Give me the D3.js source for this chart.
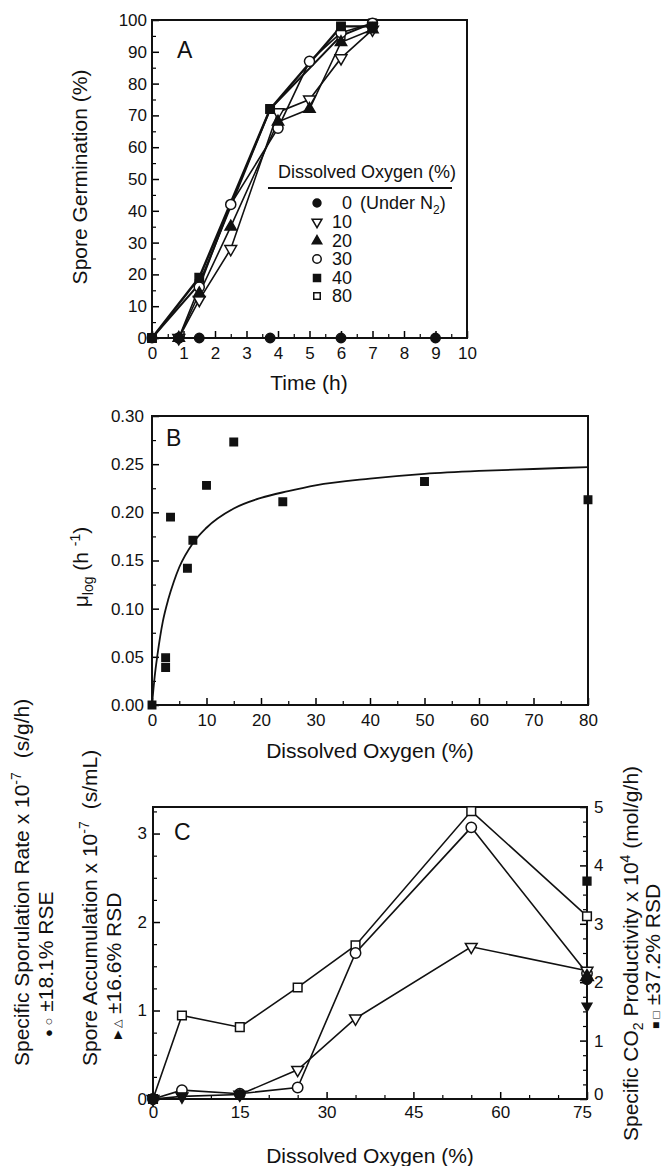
<!DOCTYPE html>
<html>
<head>
<meta charset="utf-8">
<script src="https://cdn.jsdelivr.net/npm/d3@7"></script>
<style>
    body { margin: 0; background: #fff; }
    svg text { font-family: "Liberation Sans", Arial, Helvetica, sans-serif; fill: #111; }
</style>
</head>
<body>
<div id="figure"></div>
<script>
// ---------- data ----------

// panel A: spore germination (%) vs time (h), one pair of arrays per dissolved oxygen level
const doLevelsA = ['0', '10', '20', '30', '40', '80'];
const timeN2 = [0, 0.85, 1.5, 3.75, 6, 9];
const germN2 = [0, 0, 0, 0, 0, 0];
const time10 = [0.85, 1.5, 2.5, 4, 5, 6, 7];
const germ10 = [0, 12, 28, 71, 75, 88, 97];
const time20 = [0.85, 1.5, 2.5, 4, 5, 6, 7];
const germ20 = [0, 14, 35, 68, 72, 93, 97];
const time30 = [0.85, 1.5, 2.5, 4, 5, 6, 7];
const germ30 = [0, 16, 42, 66, 87, 96, 99];
const time40 = [0, 1.5, 3.75, 6, 7];
const germ40 = [0, 19, 72, 98, 98];
const time80 = [0, 1.5, 3.75, 6, 7];
const germ80 = [0, 17, 72, 95, 99];
const timeTicksA = [0, 1, 2, 3, 4, 5, 6, 7, 8, 9, 10];
const germTicksA = [0, 10, 20, 30, 40, 50, 60, 70, 80, 90, 100];

// panel B: specific growth rate vs dissolved oxygen
const doB = [0, 2.5, 2.5, 3.4, 6.5, 7.5, 10, 15, 24, 50, 80];
const muB = [0, 0.049, 0.039, 0.195, 0.142, 0.171, 0.228, 0.273, 0.211, 0.232, 0.213];
const fitDoB = [0, 0.5, 1, 2, 3, 4, 5, 7.5, 10, 15, 20, 25, 30, 40, 50, 60, 70, 80];
const fitMuB = [0, 0.030, 0.052, 0.087, 0.110, 0.128, 0.143, 0.168, 0.184, 0.204, 0.215, 0.222, 0.228, 0.235, 0.240, 0.243, 0.245, 0.247];
const doTicksB = [0, 10, 20, 30, 40, 50, 60, 70, 80];
const muTicksB = [0, 0.05, 0.10, 0.15, 0.20, 0.25, 0.30];

// panel C: sporulation rate / spore accumulation (left) and CO2 productivity (right)
const doC = [0, 5, 15, 25, 35, 55, 75];
const rateOpenC = [0, 0.10, 0.06, 0.13, 1.65, 3.07, 1.42];
const accumOpenC = [0, 0.03, 0.05, 0.33, 0.91, 1.72, 1.45];
const co2OpenC = [0, 1.43, 1.23, 1.91, 2.63, 4.93, 3.13];
const rateFilledDo = [0, 15, 75];
const rateFilledC = [0, 0.05, 1.35];
const accumUpDo = [75];
const accumUpC = [1.38];
const accumDownDo = [5, 75];
const accumDownC = [0.03, 1.05];
const co2FilledDo = [75];
const co2FilledC = [3.73];
const doTicksC = [0, 15, 30, 45, 60, 75];
const leftTicksC = [0, 1, 2, 3];
const rightTicksC = [0, 1, 2, 3, 4, 5];

// ---------- drawing ----------
let svg = d3.select('#figure')
    .append('svg')
    .attr('width', 668)
    .attr('height', 1166);

function zip(xs, ys) {
    return xs.map(function (d, i) { return [d, ys[i]]; });
}

function symbolPath(type, size) {
    if (type === 'circle') return d3.symbol().type(d3.symbolCircle).size(size)();
    if (type === 'square') return d3.symbol().type(d3.symbolSquare).size(size)();
    return d3.symbol().type(d3.symbolTriangle).size(size)();
}

function drawMarkers(g, pts, x, y, type, filled, size) {
    g.selectAll(null)
        .data(pts)
        .enter()
        .append('path')
        .attr('d', symbolPath(type, size))
        .attr('transform', function (d) {
            let r = type === 'down' ? ' rotate(180)' : '';
            return 'translate(' + x(d[0]) + ',' + y(d[1]) + ')' + r;
        })
        .attr('fill', filled ? '#111' : '#fff')
        .attr('stroke', '#111')
        .attr('stroke-width', 1.5);
}

function drawLine(g, pts, x, y, width) {
    g.append('path')
        .datum(pts)
        .attr('d', d3.line().x(function (d) { return x(d[0]); }).y(function (d) { return y(d[1]); }))
        .attr('fill', 'none')
        .attr('stroke', '#111')
        .attr('stroke-width', width);
}

function minorTicks(g, axis, values, transform) {
    g.append('g')
        .attr('transform', transform)
        .call(axis.tickValues(values).tickSize(-4).tickFormat(''))
        .call(function (s) { s.select('.domain').remove(); })
        .selectAll('line').attr('stroke-width', 1.2);
}

function majorTicks(g, axis, transform, fontSize) {
    let a = g.append('g')
        .attr('transform', transform)
        .call(axis);
    a.select('.domain').remove();
    a.selectAll('line').attr('stroke-width', 1.5);
    a.selectAll('text')
        .style('font-family', '"Liberation Sans", Arial, sans-serif')
        .style('font-size', fontSize + 'px')
        .attr('fill', '#111');
    return a;
}

function frame(g, x0, y0, x1, y1) {
    g.append('rect')
        .attr('x', x0).attr('y', y0)
        .attr('width', x1 - x0).attr('height', y1 - y0)
        .attr('fill', 'none')
        .attr('stroke', '#111')
        .attr('stroke-width', 2);
}

// ---------- panel A ----------
(function () {
    let g = svg.append('g');
    let x = d3.scaleLinear().domain([0, 10]).range([152, 467]);
    let y = d3.scaleLinear().domain([0, 100]).range([338, 20]);

    minorTicks(g, d3.axisBottom(x), d3.range(0.5, 10, 1), 'translate(0,338)');
    minorTicks(g, d3.axisLeft(y), d3.range(5, 100, 10), 'translate(152,0)');
    majorTicks(g, d3.axisBottom(x).tickValues(timeTicksA).tickSize(-7).tickPadding(9).tickFormat(d3.format('d')),
        'translate(0,338)', 17);
    majorTicks(g, d3.axisLeft(y).tickValues(germTicksA).tickSize(-7).tickPadding(5).tickFormat(d3.format('d')),
        'translate(152,0)', 17);
    frame(g, 152, 20, 467, 338);

    let series = [
        {t: timeN2, v: germN2, type: 'circle', filled: true, w: 2, size: 70},
        {t: time10, v: germ10, type: 'down', filled: false, w: 1.6, size: 60},
        {t: time20, v: germ20, type: 'triangle', filled: true, w: 1.6, size: 55},
        {t: time30, v: germ30, type: 'circle', filled: false, w: 1.6, size: 80},
        {t: time40, v: germ40, type: 'square', filled: true, w: 2.4, size: 70},
        {t: time80, v: germ80, type: 'square', filled: false, w: 2, size: 60}
    ];
    series.forEach(function (s) { drawLine(g, zip(s.t, s.v), x, y, s.w); });
    // open markers underneath, filled markers on top (as in the original)
    [5, 3, 1, 2, 4, 0].forEach(function (k) {
        let s = series[k];
        drawMarkers(g, zip(s.t, s.v), x, y, s.type, s.filled, s.size);
    });

    g.append('text').attr('x', 177).attr('y', 58).style('font-size', '23px').text('A');

    g.append('text')
        .attr('transform', 'translate(87,177) rotate(-90)')
        .attr('text-anchor', 'middle')
        .style('font-size', '21px')
        .text('Spore Germination (%)');
    g.append('text')
        .attr('x', 309).attr('y', 390)
        .attr('text-anchor', 'middle')
        .style('font-size', '21px')
        .text('Time (h)');

    // legend
    let lg = g.append('g');
    lg.append('text').attr('x', 278).attr('y', 178).style('font-size', '18px').text('Dissolved Oxygen (%)');
    lg.append('line').attr('x1', 268).attr('x2', 452).attr('y1', 188).attr('y2', 188)
        .attr('stroke', '#111').attr('stroke-width', 2);
    let rows = [203, 222, 241, 259, 278, 296];
    series.forEach(function (s, i) {
        lg.append('path')
            .attr('d', symbolPath(s.type, s.size * 0.7))
            .attr('transform', 'translate(317,' + rows[i] + ')' + (s.type === 'down' ? ' rotate(180)' : ''))
            .attr('fill', s.filled ? '#111' : '#fff')
            .attr('stroke', '#111').attr('stroke-width', 1.5);
        lg.append('text')
            .attr('x', 352).attr('y', rows[i] + 6)
            .attr('text-anchor', 'end')
            .style('font-size', '18px')
            .text(doLevelsA[i]);
    });
    let n2 = lg.append('text').attr('x', 360).attr('y', rows[0] + 6).style('font-size', '18px');
    n2.append('tspan').text('(Under N');
    n2.append('tspan').attr('dy', 5).style('font-size', '12px').text('2');
    n2.append('tspan').attr('dy', -5).text(')');
})();

// ---------- panel B ----------
(function () {
    let g = svg.append('g');
    let x = d3.scaleLinear().domain([0, 80]).range([152, 588]);
    let y = d3.scaleLinear().domain([0, 0.30]).range([705, 416]);

    minorTicks(g, d3.axisBottom(x), d3.range(5, 80, 10), 'translate(0,705)');
    minorTicks(g, d3.axisLeft(y), [0.025, 0.075, 0.125, 0.175, 0.225, 0.275], 'translate(152,0)');
    majorTicks(g, d3.axisBottom(x).tickValues(doTicksB).tickSize(-7).tickPadding(9).tickFormat(d3.format('d')),
        'translate(0,705)', 17);
    majorTicks(g, d3.axisLeft(y).tickValues(muTicksB).tickSize(-7).tickPadding(8).tickFormat(d3.format('.2f')),
        'translate(152,0)', 17);
    frame(g, 152, 416, 588, 705);

    g.append('path')
        .datum(zip(fitDoB, fitMuB))
        .attr('d', d3.line()
            .curve(d3.curveMonotoneX)
            .x(function (d) { return x(d[0]); })
            .y(function (d) { return y(d[1]); }))
        .attr('fill', 'none')
        .attr('stroke', '#111')
        .attr('stroke-width', 1.8);
    drawMarkers(g, zip(doB, muB), x, y, 'square', true, 55);

    g.append('text').attr('x', 166).attr('y', 446).style('font-size', '23px').text('B');

    let yl = g.append('text')
        .attr('transform', 'translate(88,567) rotate(-90)')
        .attr('text-anchor', 'middle')
        .style('font-size', '21px');
    yl.append('tspan').text('\u03bc');
    yl.append('tspan').attr('dy', 5).style('font-size', '14px').text('log');
    yl.append('tspan').attr('dy', -5).text(' (h ');
    yl.append('tspan').attr('dy', -8).style('font-size', '14px').text('-1');
    yl.append('tspan').attr('dy', 8).text(')');

    g.append('text')
        .attr('x', 370).attr('y', 758)
        .attr('text-anchor', 'middle')
        .style('font-size', '21px')
        .text('Dissolved Oxygen (%)');
})();

// ---------- panel C ----------
(function () {
    let g = svg.append('g');
    let x = d3.scaleLinear().domain([0, 75]).range([153, 587]);
    let yL = d3.scaleLinear().domain([0, 3.3]).range([1099, 807]);
    let yR = d3.scaleLinear().domain([0, 5]).range([1099, 807]);

    minorTicks(g, d3.axisBottom(x), d3.range(5, 75, 5).filter(function (d) { return d % 15 !== 0; }), 'translate(0,1099)');
    minorTicks(g, d3.axisLeft(yL), [0.25, 0.5, 0.75, 1.25, 1.5, 1.75, 2.25, 2.5, 2.75, 3.25], 'translate(153,0)');
    minorTicks(g, d3.axisRight(yR), [0.25, 0.5, 0.75, 1.25, 1.5, 1.75, 2.25, 2.5, 2.75, 3.25, 3.5, 3.75, 4.25, 4.5, 4.75], 'translate(587,0)');
    let bottom = majorTicks(g, d3.axisBottom(x).tickValues(doTicksC).tickSize(-7).tickPadding(7).tickFormat(d3.format('d')),
        'translate(0,1099)', 17);
    majorTicks(g, d3.axisLeft(yL).tickValues(leftTicksC).tickSize(-7).tickPadding(6).tickFormat(d3.format('d')),
        'translate(153,0)', 17);
    let right = majorTicks(g, d3.axisRight(yR).tickValues(rightTicksC).tickSize(-7).tickPadding(7).tickFormat(d3.format('d')),
        'translate(587,0)', 17);
    // the "75" and the right-hand "0" sit corner to corner in the original
    bottom.selectAll('text').filter(function (d) { return d === 75; }).attr('x', -5);
    right.selectAll('text').filter(function (d) { return d === 0; }).attr('y', -5);
    frame(g, 153, 807, 587, 1099);

    drawLine(g, zip(doC, co2OpenC), x, yR, 1.6);
    drawLine(g, zip(doC, rateOpenC), x, yL, 1.6);
    drawLine(g, zip(doC, accumOpenC), x, yL, 1.6);

    drawMarkers(g, zip(doC, co2OpenC), x, yR, 'square', false, 75);
    drawMarkers(g, zip(doC, rateOpenC), x, yL, 'circle', false, 85);
    drawMarkers(g, zip(doC, accumOpenC), x, yL, 'down', false, 60);
    drawMarkers(g, zip(rateFilledDo, rateFilledC), x, yL, 'circle', true, 75);
    drawMarkers(g, zip(accumUpDo, accumUpC), x, yL, 'triangle', true, 70);
    drawMarkers(g, zip(accumDownDo, accumDownC), x, yL, 'down', true, 40);
    drawMarkers(g, zip(co2FilledDo, co2FilledC), x, yR, 'square', true, 60);

    g.append('text').attr('x', 174).attr('y', 840).style('font-size', '23px').text('C');

    g.append('text')
        .attr('x', 370).attr('y', 1163)
        .attr('text-anchor', 'middle')
        .style('font-size', '21px')
        .text('Dissolved Oxygen (%)');

    // left titles
    let t1 = g.append('text')
        .attr('transform', 'translate(29,1066) rotate(-90)')
        .style('font-size', '21px');
    t1.append('tspan').text('Specific Sporulation Rate x 10');
    t1.append('tspan').attr('dy', -8).style('font-size', '14px').text('-7');
    t1.append('tspan').attr('dy', 8).attr('dx', 14).text('(s/g/h)');

    let s1 = g.append('text')
        .attr('transform', 'translate(53,1037) rotate(-90)')
        .style('font-size', '21px');
    s1.append('tspan').style('font-size', '13px').text('\u25cf \u25cb');
    s1.append('tspan').attr('dx', 6).text('\u00b118.1% RSE');

    let t2 = g.append('text')
        .attr('transform', 'translate(97,1066) rotate(-90)')
        .style('font-size', '21px');
    t2.append('tspan').text('Spore Accumulation x 10');
    t2.append('tspan').attr('dy', -8).style('font-size', '14px').text('-7');
    t2.append('tspan').attr('dy', 8).attr('dx', 12).text('(s/mL)');

    let s2 = g.append('text')
        .attr('transform', 'translate(121,1039) rotate(-90)')
        .style('font-size', '21px');
    s2.append('tspan').style('font-size', '11px').text('\u25b6 \u25b3');
    s2.append('tspan').attr('dx', 6).text('\u00b116.6% RSD');

    // right titles
    let t3 = g.append('text')
        .attr('transform', 'translate(638,1141) rotate(-90)')
        .style('font-size', '21px');
    t3.append('tspan').text('Specific CO');
    t3.append('tspan').attr('dy', 5).style('font-size', '14px').text('2');
    t3.append('tspan').attr('dy', -5).text(' Productivity x 10');
    t3.append('tspan').attr('dy', -8).style('font-size', '14px').text('4');
    t3.append('tspan').attr('dy', 8).text(' (mol/g/h)');

    let s3 = g.append('text')
        .attr('transform', 'translate(660,1029) rotate(-90)')
        .style('font-size', '21px');
    s3.append('tspan').style('font-size', '12px').text('\u25a0 \u25a1');
    s3.append('tspan').attr('dx', 6).text('\u00b137.2% RSD');
})();
</script>
</body>
</html>
